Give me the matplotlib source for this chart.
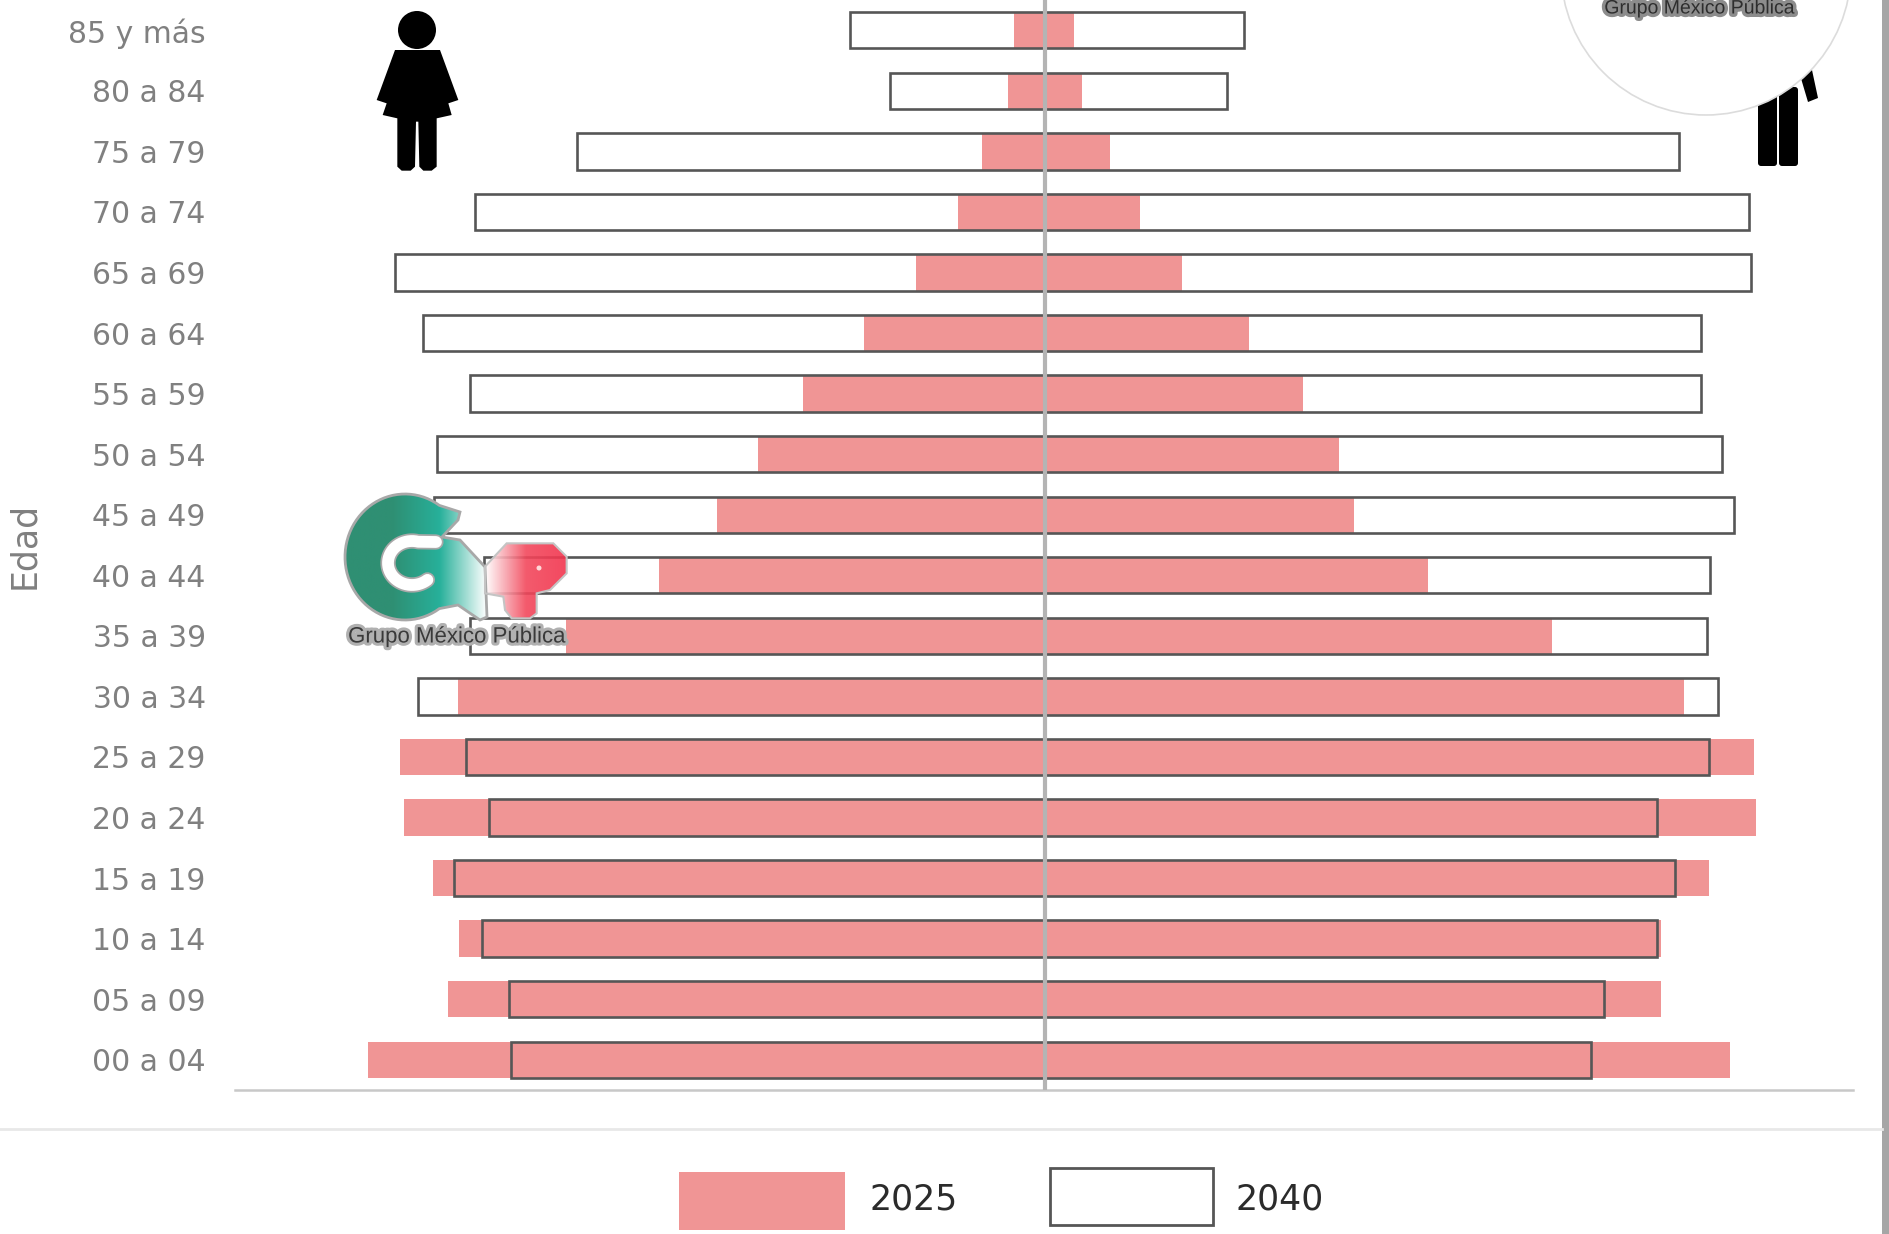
import numpy as np
import matplotlib
matplotlib.use('Agg')
import matplotlib.pyplot as plt
import matplotlib.patheffects as pe
from matplotlib.colors import LinearSegmentedColormap
from matplotlib.patches import Circle, FancyBboxPatch, Polygon, Rectangle

W, H = 1890, 1234
plt.rcParams['font.family'] = ['DejaVu Sans']

edades = ['00 a 04', '05 a 09', '10 a 14', '15 a 19', '20 a 24', '25 a 29',
          '30 a 34', '35 a 39', '40 a 44', '45 a 49', '50 a 54', '55 a 59',
          '60 a 64', '65 a 69', '70 a 74', '75 a 79', '80 a 84', '85 y más']
# no scale in the picture, so values are bar lengths read off it
mujeres_2025 = [677, 597, 586, 612, 641, 645, 587, 479, 386, 328, 287, 242, 181, 129, 87, 63, 37, 31]
hombres_2025 = [685, 616, 616, 664, 711, 709, 639, 507, 383, 309, 294, 258, 204, 137, 95, 65, 37, 29]
mujeres_2040 = [534, 536, 563, 591, 556, 579, 627, 575, 561, 611, 608, 575, 622, 650, 570, 468, 155, 195]
hombres_2040 = [546, 559, 612, 630, 612, 664, 673, 662, 665, 689, 677, 656, 656, 706, 704, 634, 182, 199]

ROSA = '#f09595'
BORDE = '#565656'
GRIS = '#808080'

fig = plt.figure(figsize=(W / 100, H / 100), dpi=100, facecolor='white')
ax = fig.add_axes([235 / W, (H - 1090) / H, (1853 - 235) / W, 1090 / H])
y = np.arange(len(edades))
m25, h25 = np.array(mujeres_2025), np.array(hombres_2025)
m40, h40 = np.array(mujeres_2040), np.array(hombres_2040)
ax.barh(y, m25 + h25, left=-m25, height=0.6, color=ROSA, zorder=2)
ax.barh(y, m40, left=-m40, height=0.6, facecolor='none', edgecolor=BORDE, lw=1.9, zorder=3)
ax.barh(y, h40, height=0.6, facecolor='none', edgecolor=BORDE, lw=1.9, zorder=3)
ax.axvline(0, color='#b4b4b4', lw=3, zorder=4)
ax.set_xlim(-810, 808)
ax.set_ylim(-0.5, 17.5)
ax.set_yticks(y, edades, fontsize=21.5, color=GRIS)
ax.set_xticks([])
ax.tick_params(axis='y', length=0, pad=21)
for s in ['top', 'right', 'left']:
    ax.spines[s].set_visible(False)
ax.spines['bottom'].set_color('#c8c8c8')
ax.spines['bottom'].set_linewidth(1.8)
ax.patch.set_alpha(0)

# overlay in pixels for icons, logos and the legend
ov = fig.add_axes([0, 0, 1, 1], zorder=5)
ov.patch.set_alpha(0)
ov.axis('off')


def px(points, dx, dy):
    return [(dx + a / 3, dy + b / 3) for a, b in points]


# woman
ov.add_patch(Circle((417, 30), 19, color='k', lw=0))
ov.add_patch(Polygon(px([(165, 150), (300, 150), (355, 300), (325, 310), (335, 345), (290, 355),
                         (290, 500), (275, 512), (250, 512), (238, 500), (235, 365), (228, 365),
                         (225, 500), (212, 512), (185, 512), (172, 500), (172, 355), (128, 345),
                         (140, 310), (110, 300)], 340, 0), color='k', lw=0))
# man, mostly behind the round logo
for x0 in (1758, 1779):
    ov.add_patch(FancyBboxPatch((x0 + 3, 90), 13, 73, boxstyle='round,pad=3', color='k', lw=0))
ov.add_patch(Polygon([(1800, 75), (1812, 70), (1818, 98), (1808, 102)], color='k', lw=0))
ov.add_patch(Circle((1706, -30), 145, facecolor='white', edgecolor='#dcdcdc', lw=1.2, zorder=1.5))

# strips at the frame
ov.add_patch(Rectangle((1882, 0), 8, H, color='#a6a6a6', lw=0))
ov.plot([0, 1882], [1129, 1129], color='#e8e8e8', lw=2)

# main GMP logo
verde = LinearSegmentedColormap.from_list('v', ['#2f8f73', '#2f8f73', '#27b09a', '#ffffff'])
rojo = LinearSegmentedColormap.from_list('r', ['#ffffff', '#f2485c', '#f2344e'])
t = np.radians(np.linspace(55, 305, 60))
g_pts = list(zip(405 + 60 * np.cos(t), 557 - 63 * np.sin(t)))
g_pts += [(458, 605), (480, 620), (487, 617), (485, 567), (460, 540), (442, 537), (458, 520), (460, 512)]
p_pts = px([(555, 380), (620, 310), (760, 310), (800, 350), (800, 400), (750, 450), (710, 460),
            (710, 520), (690, 535), (635, 535), (615, 510), (610, 470), (555, 460)], 300, 440)
g_patch = Polygon(g_pts, facecolor='none', edgecolor='#a8a8a8', lw=2, zorder=2.5)
p_patch = Polygon(p_pts, facecolor='none', edgecolor='#c4c4c4', lw=1.5, zorder=2.5)
ov.add_patch(Polygon(g_pts, facecolor='white', edgecolor='none', zorder=1.8))
ov.add_patch(g_patch)
ov.add_patch(p_patch)
grad = np.linspace(0, 1, 256)[None, :]
im1 = ov.imshow(grad, cmap=verde, extent=(345, 487, 620, 490), aspect='auto', zorder=2)
im1.set_clip_path(g_patch)
im2 = ov.imshow(grad, cmap=rojo, extent=(485, 567, 620, 490), aspect='auto', alpha=0.9, zorder=2)
im2.set_clip_path(p_patch)
t = np.radians(np.linspace(75, 310, 40))
hueco_x = np.r_[436, 412 + 24 * np.cos(t)]
hueco_y = np.r_[542, 563 - 22 * np.sin(t)]
ov.plot(hueco_x, hueco_y, color='#a8a8a8', lw=11, solid_capstyle='round', zorder=3)
ov.plot(hueco_x, hueco_y, color='white', lw=8.5, solid_capstyle='round', zorder=3)
ov.add_patch(Circle((539, 568), 2.5, color='#ffd8d8', lw=0, zorder=3))

ov.text(457, 637, 'Grupo México Pública', fontsize=16, color='#3a3a3a', ha='center', va='center',
        family='Liberation Sans', path_effects=[pe.withStroke(linewidth=4.5, foreground='#b0b0b0')])
ov.text(1700, 9, 'Grupo México Pública', fontsize=14, color='#2e2e2e', ha='center', va='center',
        family='Liberation Sans', path_effects=[pe.withStroke(linewidth=5, foreground='#8c8c8c')])

ov.text(24, 545, 'Edad', fontsize=25, color=GRIS, rotation=90, ha='center', va='center')

# legend
ov.add_patch(Rectangle((679, 1172), 166, 58, color=ROSA, lw=0))
ov.add_patch(Rectangle((1050, 1168), 163, 57, facecolor='white', edgecolor=BORDE, lw=2))
ov.text(869, 1199, '2025', fontsize=25, color='#2b2b2b', va='center')
ov.text(1236, 1199, '2040', fontsize=25, color='#2b2b2b', va='center')

ov.set_xlim(0, W)
ov.set_ylim(H, 0)
fig.savefig('out.png', dpi=100)
